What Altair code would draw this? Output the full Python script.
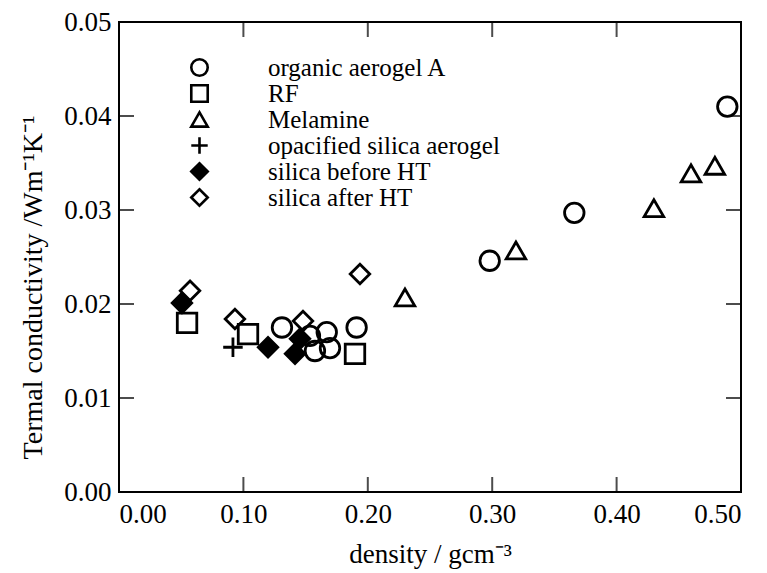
import altair as alt
import pandas as pd

# ---- data ----
series_names = ["organic aerogel A", "RF", "Melamine", "opacified silica aerogel",
                "silica before HT", "silica after HT"]

organic_x = [0.489, 0.366, 0.298, 0.131, 0.1535, 0.167, 0.1575, 0.1696, 0.191]
organic_y = [0.0410, 0.0297, 0.0246, 0.0175, 0.0166, 0.0170, 0.0150, 0.0153, 0.0175]

rf_x = [0.0547, 0.1037, 0.1897]
rf_y = [0.0180, 0.0168, 0.0147]

melamine_x = [0.2299, 0.3191, 0.430, 0.4598, 0.479]
melamine_y = [0.0207, 0.0257, 0.0302, 0.0339, 0.0347]

opac_x = [0.0916]
opac_y = [0.0154]

before_x = [0.0506, 0.1198, 0.1455, 0.1415]
before_y = [0.0201, 0.0154, 0.0163, 0.0147]

after_x = [0.0571, 0.0932, 0.1479, 0.1937]
after_y = [0.0214, 0.0184, 0.0182, 0.0232]

x_ticks = [0.0, 0.1, 0.2, 0.3, 0.4, 0.5]
y_ticks = [0.0, 0.01, 0.02, 0.03, 0.04, 0.05]

# ---- build table ----
rows = []
for name, xs, ys in zip(series_names,
                        [organic_x, rf_x, melamine_x, opac_x, before_x, after_x],
                        [organic_y, rf_y, melamine_y, opac_y, before_y, after_y]):
    for a, b in zip(xs, ys):
        rows.append({"density": a, "cond": b, "sample": name})
df = pd.DataFrame(rows)

xt = pd.DataFrame({"v": x_ticks[1:-1]})
yt = pd.DataFrame({"v": y_ticks[1:-1]})

FONT = "Liberation Serif"
W, H = 622, 470
xscale = alt.Scale(domain=[0, 0.5], nice=False, zero=False)
yscale = alt.Scale(domain=[0, 0.05], nice=False, zero=False)

shapes = ["circle", "square", "triangle-up", "M-1,0H1M0,-1V1", "diamond", "diamond"]
fills = ["transparent", "transparent", "transparent", "transparent", "black", "transparent"]
strokes = ["black"] * 6

legend = alt.Legend(
    title=None, orient="none", legendX=68, legendY=33,
    labelFont=FONT, labelFontSize=25, labelColor="black",
    labelOffset=56, rowPadding=-2.5, symbolSize=270,
    symbolStrokeColor="black", symbolStrokeWidth=2.6, padding=0,
    labelLimit=400,
)

points = alt.Chart(df).mark_point(
    strokeWidth=2.8, opacity=1, size=380
).encode(
    x=alt.X("density:Q", scale=xscale,
            axis=alt.Axis(values=x_ticks, format=".2f", title="density / gcm⁻³",
                          ticks=False, tickSize=0, domain=False, grid=False,
                          labelPadding=9, titlePadding=14)),
    y=alt.Y("cond:Q", scale=yscale,
            axis=alt.Axis(values=y_ticks, format=".2f",
                          title="Termal conductivity /Wm⁻¹K⁻¹",
                          ticks=False, tickSize=0, domain=False, grid=False,
                          labelPadding=8, titlePadding=16, titleFontSize=28,
                          titleY=265)),
    shape=alt.Shape("sample:N", scale=alt.Scale(domain=series_names, range=shapes), legend=legend),
    fill=alt.Fill("sample:N", scale=alt.Scale(domain=series_names, range=fills), legend=legend),
    stroke=alt.Stroke("sample:N", scale=alt.Scale(domain=series_names, range=strokes), legend=legend),
)

tick_style = dict(color="black", size=30, thickness=2, clip=True)

bottom = alt.Chart(xt).mark_tick(orient="vertical", **tick_style).encode(
    x=alt.X("v:Q", scale=xscale), y=alt.YDatum(0))
top = alt.Chart(xt).mark_tick(orient="vertical", **tick_style).encode(
    x=alt.X("v:Q", scale=xscale), y=alt.YDatum(0.05))
left = alt.Chart(yt).mark_tick(orient="horizontal", **tick_style).encode(
    y=alt.Y("v:Q", scale=yscale), x=alt.XDatum(0))
right = alt.Chart(yt).mark_tick(orient="horizontal", **tick_style).encode(
    y=alt.Y("v:Q", scale=yscale), x=alt.XDatum(0.5))

chart = alt.layer(points, bottom, top, left, right).properties(
    width=W, height=H,
    autosize=alt.AutoSizeParams(type="none"),
    padding={"left": 111, "top": 14, "right": 10, "bottom": 80},
    background="white",
).configure_view(
    stroke="black", strokeWidth=2
).configure_axis(
    labelFont=FONT, labelFontSize=27, labelColor="black",
    titleFont=FONT, titleFontSize=27, titleFontWeight="normal", titleColor="black",
)

chart.save("out.html", embed_options={"renderer": "svg", "actions": False})
